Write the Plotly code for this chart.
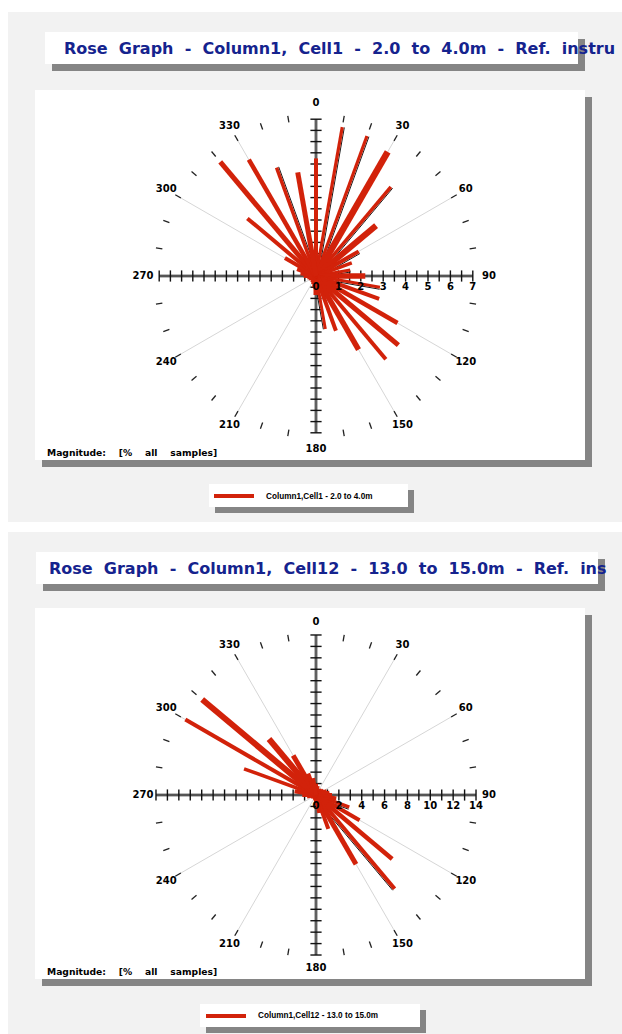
import math
import numpy as np
import plotly.graph_objects as go

W, H = 622, 1034

# ------------------------------------------------------------------ data
DIRECTIONS_DEG = [0, 10, 20, 30, 40, 50, 60, 70, 80, 90, 100, 110, 120, 130, 140, 150, 160, 170,
                  180, 190, 200, 210, 220, 230, 240, 250, 260, 270, 280, 290, 300, 310, 320, 330, 340, 350]

CELL1_PCT = [5.25, 6.75, 6.65, 6.4, 5.2, 3.5, 2.2, 1.7, 1.55, 2.2, 2.9, 3.0, 4.2, 4.8, 4.85, 3.8, 2.6, 2.4,
             0.85, 0.5, 0.4, 0.35, 0.3, 0.3, 0.3, 0.35, 0.4, 0.55, 0.7, 0.9, 1.6, 4.0, 6.65, 6.0, 5.15, 4.7]

CELL12_PCT = [1.0, 0.8, 0.6, 0.6, 0.6, 0.7, 0.8, 1.0, 1.2, 1.4, 1.8, 3.1, 4.4, 8.7, 10.7, 7.0, 3.15, 1.6,
              0.9, 0.5, 0.4, 0.3, 0.3, 0.3, 0.4, 0.5, 0.8, 1.2, 1.9, 6.7, 13.2, 13.0, 6.4, 4.0, 2.0, 1.5]

DIR_LABEL_ANGLES = [0, 30, 60, 90, 120, 150, 180, 210, 240, 270, 300, 330]
DIR_LABELS = ["0", "30", "60", "90", "120", "150", "180", "210", "240", "270", "300", "330"]
SPOKE_ANGLES = [30, 60, 120, 150, 210, 240, 300, 330]
RING_TICK_ANGLES = [10, 20, 30, 40, 50, 60, 70, 80, 100, 110, 120, 130, 140, 150, 160, 170,
                    190, 200, 210, 220, 230, 240, 250, 260, 280, 290, 300, 310, 320, 330, 340, 350]

CELL1_TICKS = [0, 1, 2, 3, 4, 5, 6, 7]
CELL1_TICK_LABELS = ["0", "1", "2", "3", "4", "5", "6", "7"]
CELL12_TICKS = [0, 2, 4, 6, 8, 10, 12, 14]
CELL12_TICK_LABELS = ["0", "2", "4", "6", "8", "10", "12", "14"]

TITLE1 = "Rose  Graph  -  Column1,  Cell1  -  2.0  to  4.0m  -  Ref.  instru"
TITLE2 = "Rose  Graph  -  Column1,  Cell12  -  13.0  to  15.0m  -  Ref.  ins"
LEGEND1 = "Column1,Cell1 - 2.0 to 4.0m"
LEGEND2 = "Column1,Cell12 - 13.0 to 15.0m"
MAG_TEXT = "Magnitude:    [%    all    samples]"

# ------------------------------------------------------------------ styles
RED = "#d2220a"
TITLE_BLUE = "#15238e"
SHADOW = "#858585"
BG = "#f2f2f2"
FONT = "DejaVu Sans"

# bar line widths (px), per direction
CELL1_W = [4, 3.2, 3.2, 6.5, 3.5, 6, 4, 3.5, 3, 5.5, 3, 4, 4.5, 5, 4, 5.5, 4, 3,
           5, 4, 4, 4, 4, 4, 4, 4, 4, 4, 4, 4, 4, 4, 5, 4.5, 3.5, 5]
CELL12_W = [4, 4, 4, 4, 4, 4, 4, 4, 4, 4, 4, 3.5, 4, 4.5, 4, 5, 4, 4,
            4, 4, 4, 4, 4, 4, 4, 4, 4, 4, 4, 3.5, 4, 6, 6, 5, 4, 4]
# directions whose bar shows a thin dark edge on its clockwise side
CELL1_EDGED = [10, 20, 40, 60, 80, 100, 170, 340]
CELL12_EDGED = [110, 140]


def nb(s):
    return s.replace(" ", "\u00a0")


def px(x):
    return x / W


def py(y):
    return 1 - y / H


fig = go.Figure()
shapes = []
annots = []


def rect(x0, y0, x1, y1, color):
    shapes.append(dict(type="rect", xref="paper", yref="paper", x0=px(x0), x1=px(x1),
                       y0=py(y1), y1=py(y0), fillcolor=color, line=dict(width=0), layer="below"))


def boxed(x0, y0, x1, y1, off=7):
    rect(x0 + off, y0 + off, x1 + off, y1 + off, SHADOW)
    rect(x0, y0, x1, y1, "white")


def add_rose(idx, values, widths, edged, unit_px, max_r, minor_step, ticks, tick_labels,
             panel, center):
    xa = "x" if idx == 1 else "x2"
    ya = "y" if idx == 1 else "y2"
    cx, cy = center
    x0p, y0p, x1p, y1p = panel
    lay = {}
    lay["xaxis" if idx == 1 else "xaxis2"] = dict(
        domain=[px(x0p), px(x1p)], range=[(x0p - cx) / unit_px, (x1p - cx) / unit_px],
        visible=False, fixedrange=True, anchor=ya)
    lay["yaxis" if idx == 1 else "yaxis2"] = dict(
        domain=[py(y1p), py(y0p)], range=[(cy - y1p) / unit_px, (cy - y0p) / unit_px],
        visible=False, fixedrange=True, anchor=xa)
    fig.update_layout(**lay)

    def pol(r, a):
        t = math.radians(a)
        return r * math.sin(t), r * math.cos(t)

    # spokes
    r_sp = 160 / unit_px
    sx, sy = [], []
    for a in SPOKE_ANGLES:
        ex, ey = pol(r_sp, a)
        sx += [0, ex, None]
        sy += [0, ey, None]
    fig.add_trace(go.Scatter(x=sx, y=sy, mode="lines", line=dict(color="#d6d6d6", width=1),
                             xaxis=xa, yaxis=ya, hoverinfo="skip", showlegend=False))
    # ring ticks
    rx, ry = [], []
    r_a, r_b = 156 / unit_px, 162.5 / unit_px
    for a in RING_TICK_ANGLES:
        ax_, ay_ = pol(r_a, a)
        bx_, by_ = pol(r_b, a)
        rx += [ax_, bx_, None]
        ry += [ay_, by_, None]
    fig.add_trace(go.Scatter(x=rx, y=ry, mode="lines", line=dict(color="#222", width=1.3),
                             xaxis=xa, yaxis=ya, hoverinfo="skip", showlegend=False))
    # cross axes
    for col, wd in (("#a8a8a8", 3.6), ("#3a3a3a", 1.3)):
        fig.add_trace(go.Scatter(x=[-max_r, max_r, None, 0, 0], y=[0, 0, None, -max_r, max_r],
                                 mode="lines", line=dict(color=col, width=wd),
                                 xaxis=xa, yaxis=ya, hoverinfo="skip", showlegend=False))
    minor = np.arange(-max_r, max_r + minor_step / 2, minor_step)
    fig.add_trace(go.Scatter(x=minor, y=np.zeros_like(minor), mode="markers",
                             marker=dict(symbol="line-ns", size=8, line=dict(color="#111", width=1.4)),
                             xaxis=xa, yaxis=ya, hoverinfo="skip", showlegend=False))
    fig.add_trace(go.Scatter(x=np.zeros_like(minor), y=minor, mode="markers",
                             marker=dict(symbol="line-ew", size=8, line=dict(color="#111", width=1.4)),
                             xaxis=xa, yaxis=ya, hoverinfo="skip", showlegend=False))
    # dark edges (drawn first, under the red bars)
    for a, v, wd in zip(DIRECTIONS_DEG, values, widths):
        if a not in edged:
            continue
        t = math.radians(a)
        d = (wd / 2 + 0.5) / unit_px
        nx_, ny_ = math.cos(t) * d, -math.sin(t) * d
        ex, ey = pol(v, a)
        fig.add_trace(go.Scatter(x=[nx_, ex + nx_], y=[ny_, ey + ny_], mode="lines",
                                 line=dict(color="#1a1a1a", width=1),
                                 xaxis=xa, yaxis=ya, hoverinfo="skip", showlegend=False))
    # bars
    for a, v, wd in zip(DIRECTIONS_DEG, values, widths):
        ex, ey = pol(v, a)
        fig.add_trace(go.Scatter(x=[0, ex], y=[0, ey], mode="lines",
                                 line=dict(color=RED, width=wd),
                                 xaxis=xa, yaxis=ya, hoverinfo="skip", showlegend=False))
    # tick labels (invisible marker pushes the text a little lower)
    fig.add_trace(go.Scatter(x=ticks, y=[0] * len(ticks), mode="markers+text", text=tick_labels,
                             textposition="bottom center", marker=dict(size=8, opacity=0),
                             textfont=dict(family=FONT, size=10, color="black", weight="bold"),
                             xaxis=xa, yaxis=ya, hoverinfo="skip", showlegend=False, cliponaxis=False))
    # direction labels
    r_l = 173 / unit_px
    lx = [pol(r_l, a)[0] for a in DIR_LABEL_ANGLES]
    ly = [pol(r_l, a)[1] for a in DIR_LABEL_ANGLES]
    fig.add_trace(go.Scatter(x=lx, y=ly, mode="text", text=DIR_LABELS, textposition="middle center",
                             textfont=dict(family=FONT, size=10, color="black", weight="bold"),
                             xaxis=xa, yaxis=ya, hoverinfo="skip", showlegend=False, cliponaxis=False))


# ---------------- panel 1
rect(8, 12, 640, 522, BG)
boxed(45, 32, 578, 64)
boxed(35, 90, 585, 460)
boxed(209, 484, 408, 507, off=6)
shapes.append(dict(type="line", xref="paper", yref="paper", x0=px(214), x1=px(254),
                   y0=py(496), y1=py(496), line=dict(color=RED, width=4)))
annots.append(dict(x=px(62), y=py(48), text="<b>" + nb(TITLE1) + "</b>", xanchor="left", yanchor="middle",
                   font=dict(family=FONT, size=16, color=TITLE_BLUE)))
annots.append(dict(x=px(45), y=py(452), text="<b>" + nb(MAG_TEXT) + "</b>", xanchor="left", yanchor="middle",
                   font=dict(family=FONT, size=9.2, color="black")))
annots.append(dict(x=px(264), y=py(496), text="<b>" + LEGEND1 + "</b>", xanchor="left", yanchor="middle",
                   font=dict(family="Liberation Sans", size=8.2, color="black")))
add_rose(1, CELL1_PCT, CELL1_W, CELL1_EDGED, 22.4, 7, 0.5, CELL1_TICKS, CELL1_TICK_LABELS,
         (35, 90, 585, 460), (316, 276))

# ---------------- panel 2
rect(8, 532, 640, 1040, BG)
boxed(36, 552, 598, 584)
boxed(35, 608, 585, 979)
boxed(200, 1004, 420, 1027, off=6)
shapes.append(dict(type="line", xref="paper", yref="paper", x0=px(206), x1=px(246),
                   y0=py(1016), y1=py(1016), line=dict(color=RED, width=4)))
annots.append(dict(x=px(47), y=py(568), text="<b>" + nb(TITLE2) + "</b>", xanchor="left", yanchor="middle",
                   font=dict(family=FONT, size=16, color=TITLE_BLUE)))
annots.append(dict(x=px(45), y=py(971), text="<b>" + nb(MAG_TEXT) + "</b>", xanchor="left", yanchor="middle",
                   font=dict(family=FONT, size=9.2, color="black")))
annots.append(dict(x=px(256), y=py(1016), text="<b>" + LEGEND2 + "</b>", xanchor="left", yanchor="middle",
                   font=dict(family="Liberation Sans", size=8.2, color="black")))
add_rose(2, CELL12_PCT, CELL12_W, CELL12_EDGED, 11.43, 14, 1, CELL12_TICKS, CELL12_TICK_LABELS,
         (35, 608, 585, 979), (316, 795))

for a in annots:
    a.update(xref="paper", yref="paper", showarrow=False)

fig.update_layout(width=W, height=H, margin=dict(l=0, r=0, t=0, b=0, pad=0),
                  paper_bgcolor="white", plot_bgcolor="rgba(0,0,0,0)", showlegend=False,
                  shapes=shapes, annotations=annots)

fig.write_html("out.html", config={"displayModeBar": False, "staticPlot": True},
               post_script="document.body.style.margin='0';document.body.style.overflow='hidden';")
